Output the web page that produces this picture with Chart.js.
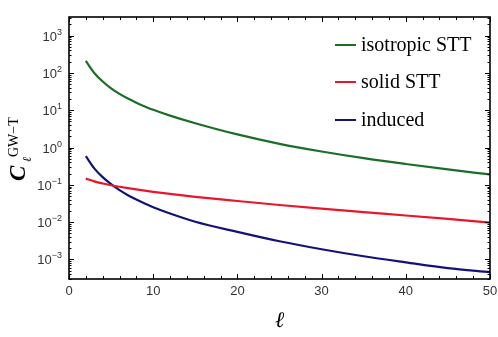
<!DOCTYPE html>
<html>
<head>
<meta charset="utf-8">
<script src="https://cdn.jsdelivr.net/npm/chart.js@4/dist/chart.umd.min.js"></script>
<style>
html,body{margin:0;padding:0;background:#fff;}
#wrap{width:498px;height:337px;position:relative;}
</style>
</head>
<body>
<div id="wrap"><canvas id="c" width="498" height="337"></canvas></div>
<script>
const ells = [2, 3, 4, 5, 6, 7, 8, 9, 10, 12, 15, 20, 25, 30, 35, 40, 45, 50];
const isotropicSTT = [210, 100, 59, 38.8, 27.6, 20.6, 16.0, 12.7, 10.3, 7.2, 4.5, 2.25, 1.26, 0.785, 0.52, 0.363, 0.26, 0.19];
const solidSTT = [0.147, 0.124, 0.109, 0.0977, 0.0889, 0.0816, 0.0754, 0.070, 0.0653, 0.0573, 0.0479, 0.037, 0.0289, 0.023, 0.0185, 0.0151, 0.0122, 0.0097];
const induced = [0.59, 0.278, 0.161, 0.104, 0.0723, 0.053, 0.0403, 0.0316, 0.0252, 0.0171, 0.0103, 0.0055, 0.00308, 0.00188, 0.00122, 0.00084, 0.00059, 0.00046];
const seriesLabels = ['isotropic STT', 'solid STT', 'induced'];
const seriesColors = ['#1b6e28', '#e8162c', '#12127a'];
const xTicks = [0, 10, 20, 30, 40, 50];
const yExponents = [-3, -2, -1, 0, 1, 2, 3];
const xTitle = 'ℓ';
const yTitleMain = 'C';
const yTitleSub = 'ℓ';
const yTitleSup = 'GW−T';

function pts(ys){ return ells.map((x,i)=>({x:x, y:ys[i]})); }

const framePlugin = {
  id: 'frame',
  afterDraw(chart){
    const ctx = chart.ctx;
    const a = chart.chartArea;
    const xs = chart.scales.x, ys = chart.scales.y;
    ctx.save();
    ctx.strokeStyle = '#000';
    ctx.lineWidth = 1.6;
    ctx.strokeRect(a.left, a.top, a.right - a.left, a.bottom - a.top);
    ctx.lineWidth = 1;
    for (let v = 0; v <= 50; v += 2) {
      const px = Math.round(xs.getPixelForValue(v)) + 0.5;
      const len = (v % 10 === 0) ? 5 : 3;
      ctx.beginPath();
      ctx.moveTo(px, a.bottom); ctx.lineTo(px, a.bottom - len);
      ctx.moveTo(px, a.top); ctx.lineTo(px, a.top + len);
      ctx.stroke();
    }
    for (let e = -4; e <= 3; e++) {
      for (let m = 1; m <= 9; m++) {
        const v = m * Math.pow(10, e);
        if (v < ys.min || v > ys.max) continue;
        const py = Math.round(ys.getPixelForValue(v)) + 0.5;
        const len = (m === 1) ? 5 : 2.5;
        ctx.beginPath();
        ctx.moveTo(a.left, py); ctx.lineTo(a.left + len, py);
        ctx.moveTo(a.right, py); ctx.lineTo(a.right - len, py);
        ctx.stroke();
      }
    }
    ctx.fillStyle = '#333';
    ctx.font = '13px "Liberation Sans", Arial, sans-serif';
    ctx.textAlign = 'center';
    ctx.textBaseline = 'middle';
    xTicks.forEach(v => {
      ctx.fillText(String(v), xs.getPixelForValue(v), a.bottom + 12);
    });
    yExponents.forEach(e => {
      const py = ys.getPixelForValue(Math.pow(10, e));
      const supTxt = e < 0 ? '−' + Math.abs(e) : String(e);
      ctx.font = '9px "Liberation Sans", Arial, sans-serif';
      const sw = ctx.measureText(supTxt).width;
      ctx.font = '13px "Liberation Sans", Arial, sans-serif';
      const bw = ctx.measureText('10').width;
      const right = a.left - 7;
      ctx.textAlign = 'left';
      ctx.textBaseline = 'alphabetic';
      ctx.fillText('10', right - sw - bw, py + 5);
      ctx.font = '9px "Liberation Sans", Arial, sans-serif';
      ctx.fillText(supTxt, right - sw, py - 1);
    });
    ctx.fillStyle = '#000';
    ctx.font = 'italic 22px "DejaVu Serif", "Liberation Serif", serif';
    ctx.textAlign = 'center';
    ctx.textBaseline = 'alphabetic';
    ctx.fillText(xTitle, (a.left + a.right) / 2, 327);
    ctx.save();
    ctx.translate(25, 181);
    ctx.rotate(-Math.PI / 2);
    ctx.textAlign = 'left';
    ctx.font = 'bold italic 23px "Liberation Serif", "Times New Roman", serif';
    ctx.fillText(yTitleMain, 0, 0);
    ctx.font = 'italic 12px "DejaVu Serif", "Liberation Serif", serif';
    ctx.fillText(yTitleSub, 19, 6);
    ctx.font = '14px "Liberation Serif", "Times New Roman", serif';
    ctx.fillText(yTitleSup, 24, -7);
    ctx.restore();
    const ly = [45, 82, 120];
    chart.data.datasets.forEach((d, i) => {
      ctx.strokeStyle = d.borderColor;
      ctx.lineWidth = 2;
      ctx.beginPath();
      ctx.moveTo(335, ly[i]); ctx.lineTo(356, ly[i]);
      ctx.stroke();
      ctx.fillStyle = '#000';
      ctx.font = '20px "Liberation Serif", "Times New Roman", serif';
      ctx.textAlign = 'left';
      ctx.textBaseline = 'middle';
      ctx.fillText(d.label, 361, ly[i] + 1);
    });
    ctx.restore();
  }
};

new Chart(document.getElementById('c'), {
  type: 'line',
  data: {
    datasets: [
      {label: seriesLabels[0], data: pts(isotropicSTT), borderColor: seriesColors[0]},
      {label: seriesLabels[1], data: pts(solidSTT), borderColor: seriesColors[1]},
      {label: seriesLabels[2], data: pts(induced), borderColor: seriesColors[2]}
    ].map(d => Object.assign(d, {borderWidth: 2.2, pointRadius: 0, cubicInterpolationMode: 'monotone', fill: false}))
  },
  options: {
    responsive: false,
    animation: false,
    layout: {padding: {left: 69, right: 8, top: 17, bottom: 58}},
    plugins: {legend: {display: false}, tooltip: {enabled: false}},
    scales: {
      x: {type: 'linear', min: 0, max: 50, display: false},
      y: {type: 'logarithmic', min: Math.pow(10, -3.5), max: Math.pow(10, 3.5), display: false}
    }
  },
  plugins: [framePlugin]
});
</script>
</body>
</html>
